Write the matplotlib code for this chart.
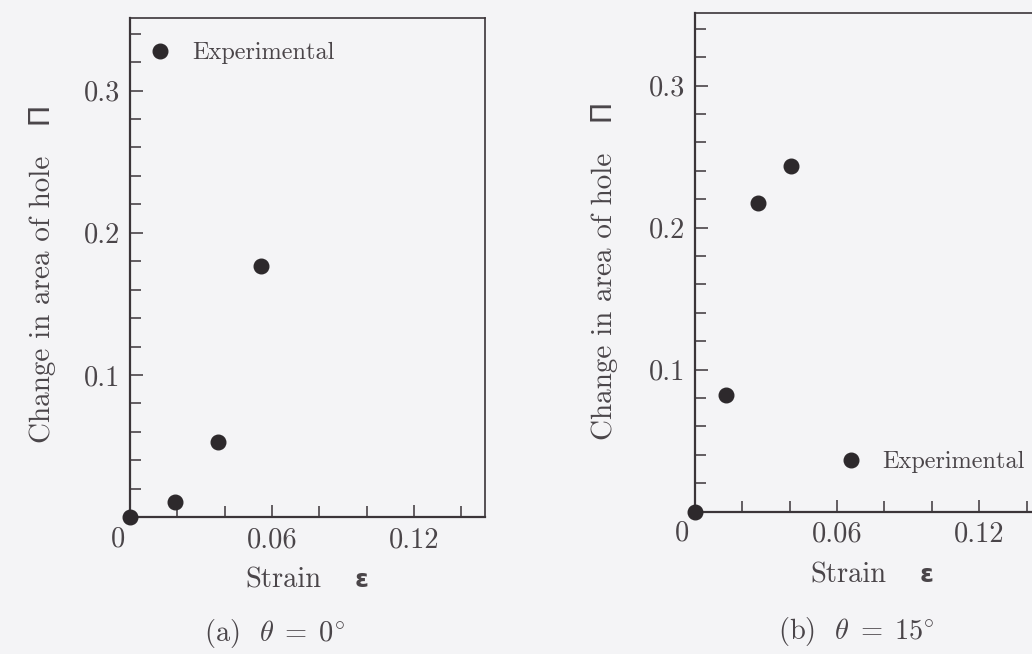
import matplotlib
matplotlib.use("Agg")
import matplotlib.pyplot as plt
from matplotlib.ticker import FixedLocator, NullFormatter, FixedFormatter

# data
strain_a = [0.0, 0.019, 0.037, 0.0555]
area_a = [0.0, 0.011, 0.053, 0.1765]
strain_b = [0.0, 0.0132, 0.0266, 0.0405]
area_b = [0.0, 0.082, 0.217, 0.2435]

captions = ["(a)  $\\theta\\;=\\;0^{\\circ}$", "(b)  $\\theta\\;=\\;15^{\\circ}$"]
ylabel = "Change in area of hole   \u03a0"
legend_label = "Experimental"

x_major = [0.06, 0.12]
x_minor = [0.02, 0.04, 0.08, 0.10, 0.14]
y_major = [0.1, 0.2, 0.3]
y_minor = [0.02, 0.04, 0.06, 0.08, 0.12, 0.14, 0.16, 0.18,
           0.22, 0.24, 0.26, 0.28, 0.32, 0.34]

plt.rcParams['font.family'] = ['cmr10', 'DejaVu Sans']
plt.rcParams['mathtext.fontset'] = 'cm'
plt.rcParams['axes.formatter.use_mathtext'] = True

bg = '#f4f4f6'
ink = '#3b3539'
txt = '#4a4549'
dot = '#2d292c'

fig = plt.figure(figsize=(10.32, 6.54), dpi=100, facecolor=bg)

W, H = 1032.0, 654.0
axes_px = [(130.0, 517.3, 355.0, 499.3), (694.7, 511.5, 355.5, 498.2)]
ylabel_x = [43, 605]
ylabel_y = [274, 271]
xlabel_pos = [(283, 580), (848, 575)]
eps_pos = [(362, 580), (927, 575)]
caption_pos = [(274, 634), (856, 632)]
legend_anchor = [(0.051, 0.930), (0.405, 0.099)]

series = [(strain_a, area_a), (strain_b, area_b)]

for i, (xs, ys) in enumerate(series):
    l, b, w, h = axes_px[i]
    ax = fig.add_axes([l / W, 1 - b / H, w / W, h / H])
    ax.set_facecolor(bg)
    ax.set_xlim(0, 0.15)
    ax.set_ylim(0, 0.351)

    ax.plot(xs, ys, 'o', color=dot, ms=10.5, clip_on=False, zorder=5,
            label=legend_label)

    for s in ax.spines.values():
        s.set_color(ink)
        s.set_linewidth(1.2)
    ax.spines['left'].set_linewidth(1.6)
    ax.spines['bottom'].set_linewidth(1.6)

    ax.xaxis.set_major_locator(FixedLocator(x_major))
    ax.xaxis.set_major_formatter(FixedFormatter(["0.06", "0.12"]))
    ax.xaxis.set_minor_locator(FixedLocator(x_minor))
    ax.xaxis.set_minor_formatter(NullFormatter())
    ax.yaxis.set_major_locator(FixedLocator(y_major))
    ax.yaxis.set_major_formatter(FixedFormatter(["0.1", "0.2", "0.3"]))
    ax.yaxis.set_minor_locator(FixedLocator(y_minor))
    ax.yaxis.set_minor_formatter(NullFormatter())

    ax.tick_params(which='both', direction='in', color=ink, width=1.1,
                   top=False, right=False, labelsize=20.5, labelcolor=txt)
    ax.tick_params(which='major', length=9, pad=7)
    ax.tick_params(which='minor', length=8)

    ax.annotate("0", (0, 0), xytext=(-9, -16), textcoords='offset points',
                ha='center', va='center', fontsize=20.5, color=txt)

    ax.legend(loc='center left', bbox_to_anchor=legend_anchor[i],
              frameon=False, handlelength=1.0, handletextpad=0.8,
              borderpad=0, borderaxespad=0, fontsize=17.5, labelcolor=txt)

    fig.text(ylabel_x[i] / W, 1 - ylabel_y[i] / H, ylabel, rotation=90,
             ha='center', va='center', fontsize=21, color=txt)
    fig.text(xlabel_pos[i][0] / W, 1 - xlabel_pos[i][1] / H, "Strain",
             ha='center', va='center', fontsize=20.5, color=txt)
    fig.text(eps_pos[i][0] / W, 1 - eps_pos[i][1] / H, "\u03b5",
             ha='center', va='center', fontsize=18, color=txt,
             family='DejaVu Sans', weight='bold')
    fig.text(caption_pos[i][0] / W, 1 - caption_pos[i][1] / H, captions[i],
             ha='center', va='center', fontsize=20.5, color=txt)

fig.savefig("out.png", dpi=100, facecolor=bg)
